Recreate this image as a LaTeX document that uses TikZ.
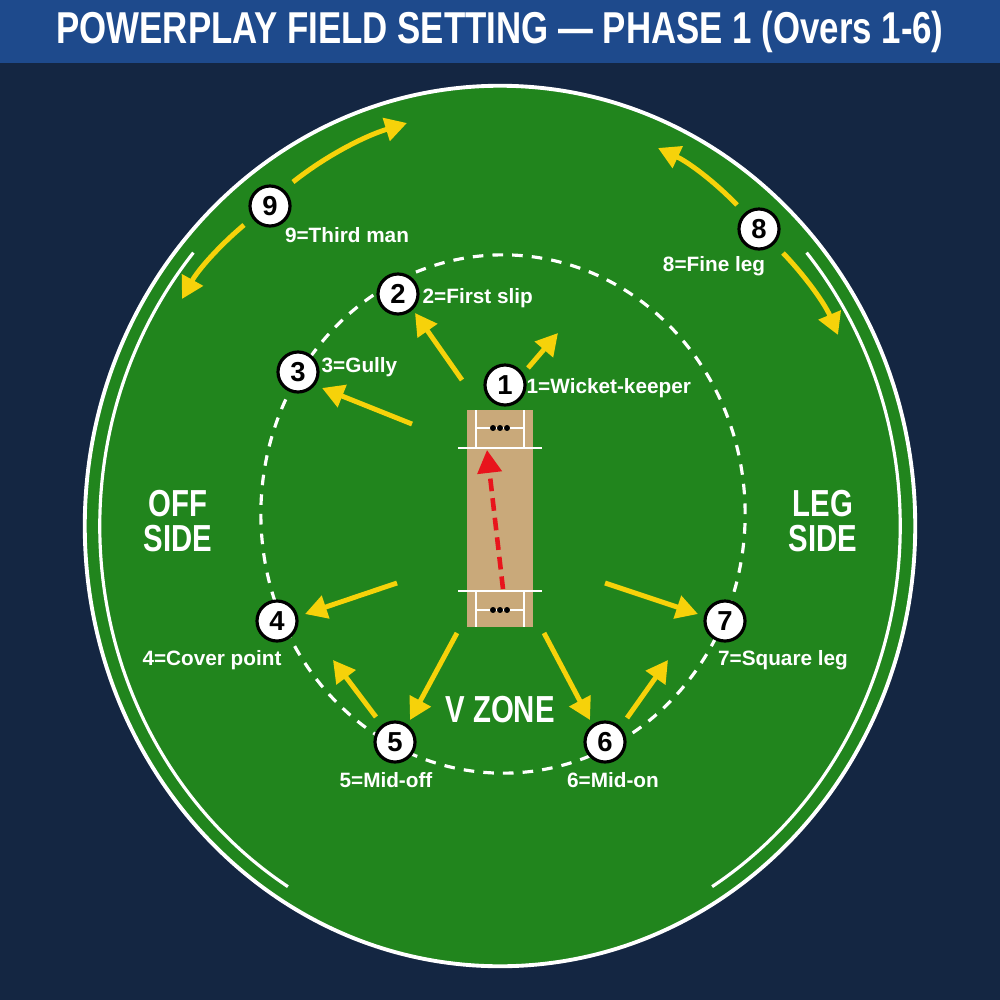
\documentclass[tikz,border=0pt]{standalone}
\usepackage{fontspec}
\setmainfont{Liberation Sans}
\newfontfamily\condfont{Liberation Sans}[FakeStretch=0.78]
\usetikzlibrary{arrows.meta}
\definecolor{navy}{RGB}{20,38,66}
\definecolor{titleblue}{RGB}{30,74,140}
\definecolor{field}{RGB}{33,133,29}
\definecolor{pitchtan}{RGB}{201,169,122}
\definecolor{arrowyellow}{RGB}{246,210,10}
\definecolor{ballred}{RGB}{232,20,28}
\tikzset{
  fielder/.style={circle, draw=black, line width=0.9pt, fill=white, minimum size=0.4cm, inner sep=0pt, font=\bfseries\fontsize{7.8}{8}\selectfont, text=black},
  lbl/.style={text=white, font=\bfseries\fontsize{5.9}{7}\selectfont, inner sep=0pt},
  biglbl/.style={text=white, font=\condfont\bfseries\fontsize{10.7}{10}\selectfont, align=center, inner sep=0pt},
  yarrow/.style={draw=arrowyellow, line width=1.4pt, -{Triangle[length=6.2pt,width=6.6pt]}},
  crease/.style={draw=white, line width=0.5pt},
}
\begin{document}
\begin{tikzpicture}[x=0.01cm,y=-0.01cm]
\useasboundingbox (0,0) rectangle (1000,1000);
% background
\fill[navy] (0,0) rectangle (1000,1000);
\fill[titleblue] (0,0) rectangle (1000,63);
\node[text=white, font=\condfont\bfseries\fontsize{12.7}{14}\selectfont, inner sep=0pt] (title) at (500,32) {POWERPLAY FIELD SETTING — PHASE 1 (Overs 1-6)};
% field
\coordinate (fc) at (500,526);
\fill[field] (fc) ellipse [x radius=4.15cm, y radius=4.40cm];
\draw[white, line width=1.1pt] (fc) ellipse [x radius=4.15cm, y radius=4.40cm];
\draw[white, line width=0.9pt] (fc) ++(140:4.0cm and 4.25cm) arc[start angle=140, end angle=238, x radius=4.0cm, y radius=4.25cm];
\draw[white, line width=0.9pt] (fc) ++(-58:4.0cm and 4.25cm) arc[start angle=-58, end angle=40, x radius=4.0cm, y radius=4.25cm];
% 30-yard circle
\draw[white, line width=0.9pt, dash pattern=on 3pt off 2.6pt] (503,514) ellipse [x radius=2.42cm, y radius=2.59cm];
% pitch
\fill[pitchtan] (467,410) rectangle (533,627);
\draw[crease] (458,448) -- (542,448);
\draw[crease] (476,410) -- (476,448);
\draw[crease] (524,410) -- (524,448);
\draw[crease] (476,428) -- (524,428);
\draw[crease] (458,591) -- (542,591);
\draw[crease] (476,591) -- (476,627);
\draw[crease] (524,591) -- (524,627);
\draw[crease] (476,610) -- (524,610);
\foreach \sx in {493,500,507} {
  \fill[black] (\sx,428) circle (0.85pt);
  \fill[black] (\sx,610) circle (0.85pt);
}
% ball path
\coordinate (bs) at (503,589);
\coordinate (be) at (487,450);
\draw[ballred, line width=1.3pt, dash pattern=on 3.6pt off 2pt, -{Triangle[length=6.5pt,width=6.8pt]}] (bs) -- (be);
% side labels
\node[biglbl] (off) at (178,521) {OFF\\SIDE};
\node[biglbl] (leg) at (823,521) {LEG\\SIDE};
\node[biglbl] (vz) at (500,710) {V ZONE};
% arrow coordinates
\coordinate (a1s) at (528,368); \coordinate (a1e) at (558,333);
\coordinate (a2s) at (462,380); \coordinate (a2e) at (415,313);
\coordinate (a3s) at (412,424); \coordinate (a3e) at (322,388);
\coordinate (a4s) at (397,583); \coordinate (a4e) at (305,614);
\coordinate (a5s) at (457,633); \coordinate (a5e) at (410,720);
\coordinate (a5bs) at (376,717); \coordinate (a5be) at (333,660);
\coordinate (a6s) at (544,633); \coordinate (a6e) at (590,720);
\coordinate (a6bs) at (627,718); \coordinate (a6be) at (668,660);
\coordinate (a7s) at (605,583); \coordinate (a7e) at (698,614);
\coordinate (a9us) at (293,182); \coordinate (a9ue) at (407,123);
\coordinate (a9ds) at (244,225); \coordinate (a9de) at (182,299);
\coordinate (a8us) at (737,205); \coordinate (a8ue) at (658,148);
\coordinate (a8ds) at (783,253); \coordinate (a8de) at (838,335);
\draw[yarrow] (a1s) -- (a1e);
\draw[yarrow] (a2s) -- (a2e);
\draw[yarrow] (a3s) -- (a3e);
\draw[yarrow] (a4s) -- (a4e);
\draw[yarrow] (a5s) -- (a5e);
\draw[yarrow] (a5bs) -- (a5be);
\draw[yarrow] (a6s) -- (a6e);
\draw[yarrow] (a6bs) -- (a6be);
\draw[yarrow] (a7s) -- (a7e);
\draw[yarrow] (a9us) .. controls (327,155) and (365,136) .. (a9ue);
\draw[yarrow] (a9ds) .. controls (219,246) and (198,270) .. (a9de);
\draw[yarrow] (a8us) .. controls (714,181) and (688,162) .. (a8ue);
\draw[yarrow] (a8ds) .. controls (806,277) and (825,304) .. (a8de);
% fielders
\node[fielder] (f1) at (505,385) {1};
\node[fielder] (f2) at (398,294) {2};
\node[fielder] (f3) at (298,372) {3};
\node[fielder] (f4) at (277,621) {4};
\node[fielder] (f5) at (395,742) {5};
\node[fielder] (f6) at (605,742) {6};
\node[fielder] (f7) at (725,621) {7};
\node[fielder] (f8) at (759,229) {8};
\node[fielder] (f9) at (270,206) {9};
% labels
\node[lbl, anchor=west] (l1) at (526,388) {1=Wicket-keeper};
\node[lbl, anchor=west] (l2) at (422,298) {2=First slip};
\node[lbl, anchor=west] (l3) at (321,367) {3=Gully};
\node[lbl] (l4) at (212,660) {4=Cover point};
\node[lbl] (l5) at (386,780) {5=Mid-off};
\node[lbl] (l6) at (613,780) {6=Mid-on};
\node[lbl] (l7) at (783,660) {7=Square leg};
\node[lbl] (l8) at (714,266) {8=Fine leg};
\node[lbl] (l9) at (347,235) {9=Third man};
\end{tikzpicture}
\end{document}
